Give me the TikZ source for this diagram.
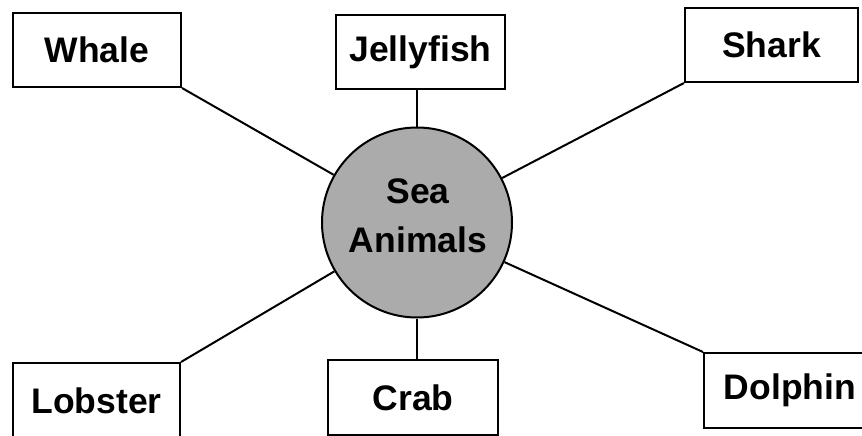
\documentclass[tikz,border=0pt]{standalone}
\usepackage{fontspec}
\setmainfont{Liberation Sans}
\tikzset{
  animalbox/.style={draw=black, line width=2pt, fill=white, inner sep=0pt,
    minimum width=170pt, minimum height=75pt,
    font=\fontsize{35.5}{40}\selectfont\bfseries},
  hub/.style={circle, draw=black, line width=2pt, fill=black!33, inner sep=0pt,
    minimum size=190pt},
  hubtext/.style={align=center, inner sep=0pt,
    font=\fontsize{35.5}{49}\selectfont\bfseries},
  link/.style={draw=black, line width=2pt}
}
\begin{document}
\begin{tikzpicture}[x=1pt,y=-1pt]
\useasboundingbox (0,0) rectangle (862,436);
\node[hub] (sea) at (417,222.5) {};
\node[animalbox, minimum width=168pt, minimum height=74pt] (whale) at (97,50) {Whale};
\node[animalbox, minimum width=169pt, minimum height=74pt] (jelly) at (420.5,52) {Jellyfish};
\node[animalbox, minimum width=173pt, minimum height=74pt] (shark) at (771.5,45) {Shark};
\node[animalbox, minimum width=167pt, minimum height=76pt] (lobster) at (96.5,401) {Lobster};
\node[animalbox, minimum width=170pt, minimum height=75pt] (crab) at (413,397.5) {Crab};
\node[animalbox, minimum width=172pt, minimum height=75pt] (dolphin) at (790,390.5) {Dolphin};
\node[hubtext] (hubtitle) at (418,216) {Sea\\Animals};
\draw[link] (whale.south east) -- (sea);
\draw[link] (shark.south west) -- (sea);
\draw[link] (lobster.north east) -- (sea);
\draw[link] (dolphin.north west) -- (sea);
\draw[link] (sea.north) -- (sea.north |- jelly.south);
\draw[link] (sea.south) -- (sea.south |- crab.north);
\end{tikzpicture}
\end{document}
